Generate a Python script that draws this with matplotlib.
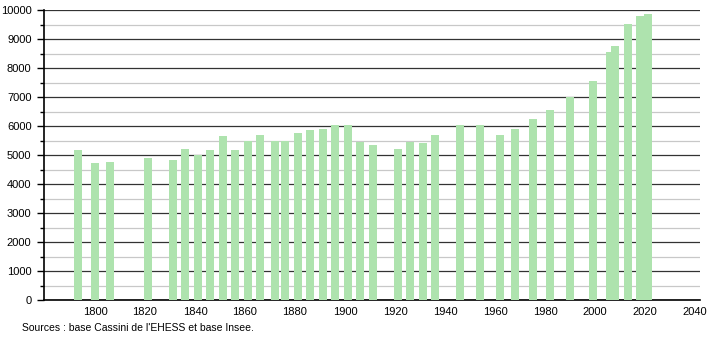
import matplotlib
matplotlib.use("Agg")
from matplotlib import pyplot as plt
from matplotlib.ticker import MultipleLocator

# population by census year
years = [1793, 1800, 1806, 1821, 1831, 1836, 1841, 1846, 1851, 1856,
         1861, 1866, 1872, 1876, 1881, 1886, 1891, 1896, 1901, 1906,
         1911, 1921, 1926, 1931, 1936, 1946, 1954, 1962, 1968, 1975,
         1982, 1990, 1999, 2006, 2008, 2013, 2018, 2021]
population = [5180, 4710, 4745, 4900, 4840, 5215, 5010, 5185, 5640, 5185,
              5470, 5700, 5470, 5470, 5760, 5870, 5905, 6045, 6045, 5435,
              5355, 5215, 5435, 5415, 5675, 6045, 6045, 5700, 5905, 6230,
              6560, 6985, 7540, 8540, 8770, 9530, 9780, 9870]
x_ticks = [1800, 1820, 1840, 1860, 1880, 1900, 1920, 1940, 1960, 1980, 2000, 2020, 2040]

plt.rcParams['font.family'] = ['Liberation Sans', 'DejaVu Sans']

fig = plt.figure(figsize=(7.1, 3.4), dpi=100)
ax = fig.add_axes([44 / 710, 40 / 340, 656 / 710, 290 / 340])

ax.bar(years, population, width=3.2, color='#aee3ae', zorder=3)

ax.set_xlim(1779.6, 2042)
ax.set_ylim(0, 10000)
ax.set_xticks(x_ticks)
ax.yaxis.set_major_locator(MultipleLocator(1000))
ax.yaxis.set_minor_locator(MultipleLocator(500))
ax.grid(axis='y', which='major', color='#333333', linewidth=0.9, zorder=1)
ax.grid(axis='y', which='minor', color='#c8c8c8', linewidth=0.9, zorder=1)

for side in ['top', 'right']:
    ax.spines[side].set_visible(False)
ax.spines['left'].set_linewidth(1.2)
ax.spines['bottom'].set_linewidth(1.2)
ax.tick_params(axis='y', which='major', length=5, width=1, labelsize=8, pad=4)
ax.tick_params(axis='y', which='minor', length=3, width=1)
ax.tick_params(axis='x', length=0, labelsize=8, pad=5)

fig.text(22 / 710, 1 - 328 / 340, "Sources : base Cassini de l'EHESS et base Insee.",
         fontsize=7.5, va='center', ha='left')

fig.savefig('out.png', dpi=100)
